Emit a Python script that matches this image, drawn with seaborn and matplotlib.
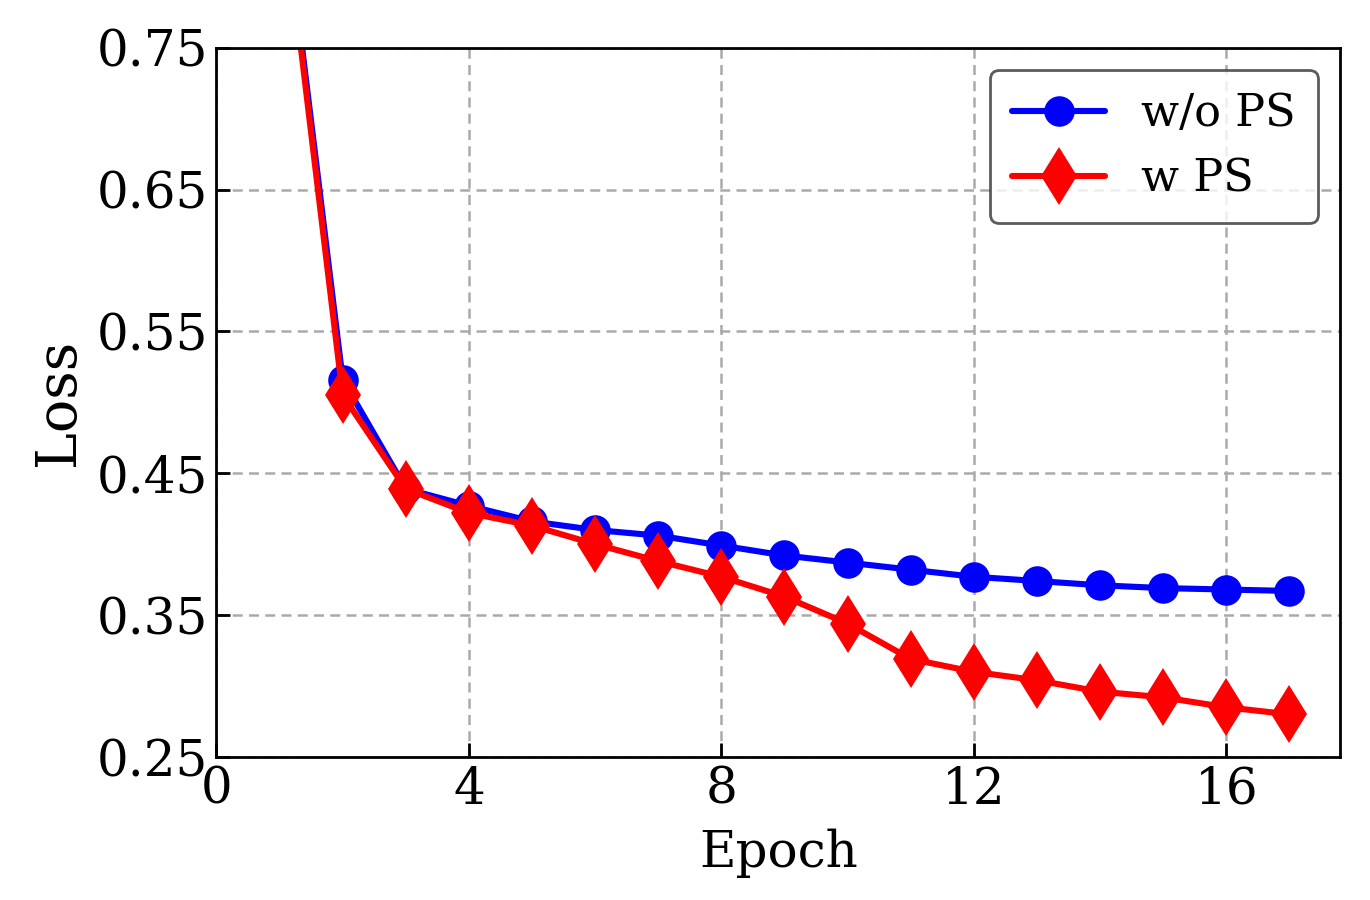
import pandas as pd
import matplotlib.pyplot as plt
import seaborn as sns

epochs = list(range(1, 18))
loss_wo_ps = [0.880, 0.516, 0.439, 0.427, 0.416, 0.410, 0.406, 0.399, 0.392,
              0.387, 0.382, 0.377, 0.374, 0.371, 0.369, 0.368, 0.367]
loss_w_ps = [0.875, 0.505, 0.439, 0.422, 0.413, 0.400, 0.388, 0.377, 0.363,
             0.344, 0.319, 0.310, 0.304, 0.296, 0.292, 0.285, 0.280]

sns.set_style('ticks')
plt.rcParams['font.family'] = ['DejaVu Serif']
plt.rcParams['text.color'] = 'black'
plt.rcParams['axes.labelcolor'] = 'black'
plt.rcParams['xtick.color'] = 'black'
plt.rcParams['ytick.color'] = 'black'

df = pd.DataFrame({'Epoch': epochs, 'wo': loss_wo_ps, 'w': loss_w_ps})

fig, ax = plt.subplots(figsize=(6.85, 4.5), dpi=200)
fig.subplots_adjust(left=0.158, right=0.978, top=0.947, bottom=0.159)

sns.lineplot(data=df, x='Epoch', y='wo', color='blue', marker='o', markersize=11,
             markeredgewidth=0, linewidth=2.2, label='w/o PS', ax=ax)
sns.lineplot(data=df, x='Epoch', y='w', color='red', marker='d', markersize=15,
             markeredgewidth=0, linewidth=2.2, label='w PS', ax=ax)

ax.set_xlim(0, 17.8)
ax.set_ylim(0.25, 0.75)
ax.set_xticks([0, 4, 8, 12, 16])
ax.set_yticks([0.25, 0.35, 0.45, 0.55, 0.65, 0.75])
ax.set_yticklabels(['0.25', '0.35', '0.45', '0.55', '0.65', '0.75'])
ax.tick_params(direction='in', labelsize=18, length=5, width=1, pad=3)
ax.grid(True, linestyle=(0, (4, 2.5)), color='#aaaaaa', linewidth=0.9)
ax.set_xlabel('Epoch', fontsize=18, labelpad=5)
ax.set_ylabel('Loss', fontsize=20)
for s in ax.spines.values():
    s.set_linewidth(1)
    s.set_color('black')

leg = ax.legend(loc='upper right', fontsize=16, fancybox=True, edgecolor='#333333',
                framealpha=0.8, handlelength=2.1, borderpad=0.5, handletextpad=0.8,
                labelspacing=0.5)

plt.savefig('out.png', dpi=200)
